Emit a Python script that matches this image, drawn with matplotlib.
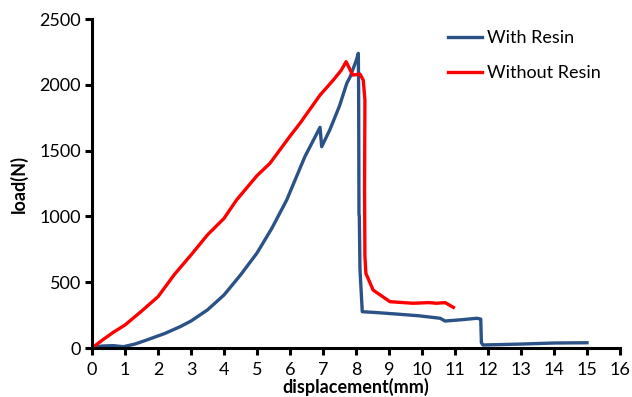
import matplotlib
matplotlib.use("Agg")
import matplotlib.pyplot as plt

# With Resin
x_with = [0.0, 0.3, 0.65, 0.95, 1.3, 1.66, 2.2, 2.67, 3.0, 3.5, 4.0, 4.5, 5.0, 5.45, 5.9, 6.45, 6.91, 6.96, 7.21, 7.5, 7.72, 7.82, 8.0, 8.07,
          8.08, 8.09, 8.1, 8.12, 8.19, 8.7, 9.23, 9.9, 10.55, 10.7, 11.2, 11.66, 11.78, 11.8, 11.85, 12.2, 13.0, 14.0, 15.0]
y_with = [0, 15, 18, 10, 30, 61, 110, 162, 205, 290, 403, 555, 722, 910, 1125, 1454, 1677, 1530, 1660, 1840, 2011, 2060, 2180, 2239,
          1950, 1020, 1000, 600, 276, 268, 258, 245, 226, 205, 215, 226, 220, 40, 23, 25, 30, 38, 40]

# Without Resin
x_without = [0.0, 0.34, 0.65, 1.0, 1.5, 2.0, 2.5, 3.0, 3.5, 4.0, 4.38, 5.0, 5.39, 6.0, 6.3, 6.91, 7.31, 7.55, 7.7, 7.9, 8.12, 8.22, 8.27,
             8.26, 8.27, 8.3, 8.52, 9.03, 9.73, 10.2, 10.44, 10.7, 10.95]
y_without = [0, 65, 120, 175, 280, 390, 560, 707, 860, 985, 1125, 1310, 1403, 1610, 1707, 1922, 2036, 2110, 2176, 2074, 2082, 2036, 1884,
             1200, 700, 567, 440, 352, 340, 345, 340, 345, 309]

series_labels = ["With Resin", "Without Resin"]
x_ticks = list(range(0, 17))
y_ticks = [0, 500, 1000, 1500, 2000, 2500]

plt.rcParams['font.family'] = ['Lato', 'DejaVu Sans']

fig = plt.figure(figsize=(6.32, 3.97), dpi=100)
ax = fig.add_axes([0.1456, 0.1234, 0.8354, 0.8286])

ax.plot(x_with, y_with, color='#2B5286', lw=2.4, label=series_labels[0], solid_joinstyle='round')
ax.plot(x_without, y_without, color='#FF0000', lw=2.4, label=series_labels[1], solid_joinstyle='round')

ax.set_xlim(0, 16)
ax.set_ylim(0, 2500)
ax.set_xticks(x_ticks)
ax.set_yticks(y_ticks)
for s in ['top', 'right']:
    ax.spines[s].set_visible(False)
for s in ['left', 'bottom']:
    ax.spines[s].set_linewidth(2.2)
ax.tick_params(axis='both', which='major', direction='out', length=5, width=2.2, labelsize=13, pad=3)
ax.tick_params(axis='x', pad=5)

ax.set_xlabel('displacement(mm)', fontsize=13, fontweight='bold', labelpad=0)
ax.set_ylabel('load(N)', fontsize=13, fontweight='bold', labelpad=8)

leg = ax.legend(loc='upper right', bbox_to_anchor=(0.995, 1.015), frameon=False, fontsize=13,
                handlelength=1.9, handletextpad=0.3, labelspacing=1.05)

fig.savefig('out.png', dpi=100)
